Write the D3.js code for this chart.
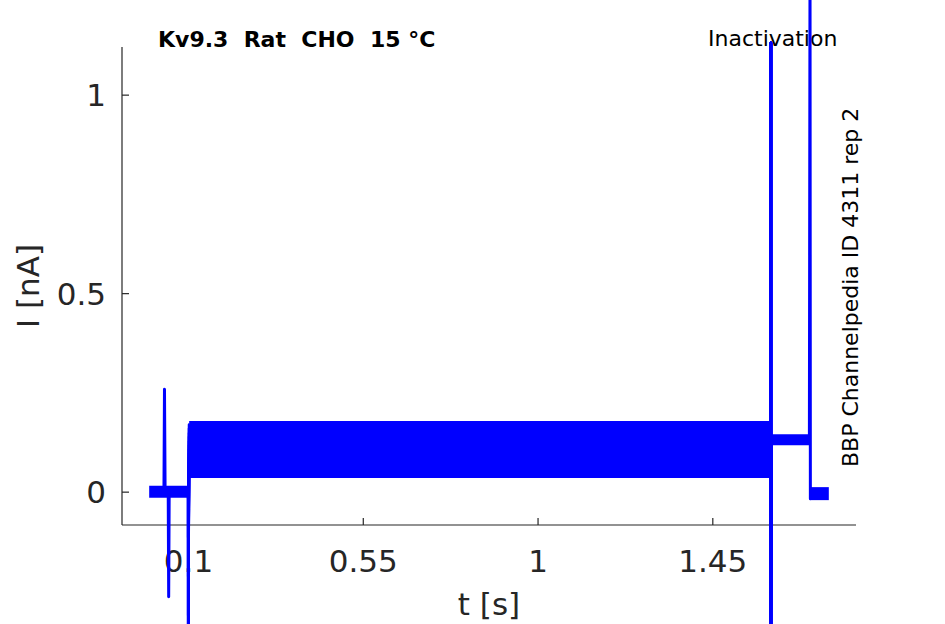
<!DOCTYPE html>
<html>
<head>
<meta charset="utf-8">
<script src="https://cdn.jsdelivr.net/npm/d3@7"></script>
<style>
  body { margin: 0; background: #fff; }
  svg { display: block; font-family: "DejaVu Sans", sans-serif; }
</style>
</head>
<body>
<div id="chart"></div>
<script>
//- Data (time in s, current in nA)
const sweepLevels = [0.043, 0.054, 0.065, 0.075, 0.086, 0.096, 0.107, 0.117, 0.127, 0.138, 0.148, 0.159, 0.169];
const holdLevel = 0.0;
const testLevel = 0.131;
const tailLevel = -0.005;

const holdSpikeUp = [[0.038, 0.0], [0.0394, 0.258], [0.041, 0.0]];
const holdSpikeDown = [[0.049, 0.0], [0.0502, -0.265], [0.0515, 0.0]];
const stepOnset = [[0.1, 0.0], [0.1007, -0.4]];
const testSpike = [[1.601, 1.131], [1.601, -0.4]];
const tailSpike = [[1.7016, 1.35], [1.7025, -0.018]];

const xTicks = [0.1, 0.55, 1, 1.45];
const xTickLabels = ["0.1", "0.55", "1", "1.45"];
const yTicks = [0, 0.5, 1];
const yTickLabels = ["0", "0.5", "1"];

const xDomain = [-0.07, 1.82];
const yDomain = [-0.084, 1.12];


//- Layout
const W = 945, H = 624;
const plot = { left: 122, right: 856, top: 47, bottom: 525 };
const AXISCOLOR = "#262626";
const TRACECOLOR = "#0000ff";

const svg = d3.select("#chart").append("svg")
    .attr("width", W)
    .attr("height", H);

const x = d3.scaleLinear().domain(xDomain).range([plot.left, plot.right]);
const y = d3.scaleLinear().domain(yDomain).range([plot.bottom, plot.top]);


//-- Axes (ticks point inward, MATLAB style)
const xAxis = svg.append("g")
    .attr("transform", `translate(0, ${plot.bottom})`)
    .call(d3.axisTop(x).tickValues(xTicks).tickSize(7).tickFormat((d, i) => xTickLabels[i]));

xAxis.select(".domain")
    .attr("d", `M${plot.left},0H${plot.right}`);

xAxis.selectAll("text")
    .attr("y", 47)
    .attr("dy", null)
    .attr("font-size", 31)
    .attr("font-family", "DejaVu Sans")
    .attr("fill", AXISCOLOR);

const yAxis = svg.append("g")
    .attr("transform", `translate(${plot.left}, 0)`)
    .call(d3.axisRight(y).tickValues(yTicks).tickSize(7).tickFormat((d, i) => yTickLabels[i]));

yAxis.select(".domain")
    .attr("d", `M0,${plot.top}V${plot.bottom}`);

yAxis.selectAll("text")
    .attr("x", -16)
    .attr("dy", "0.36em")
    .attr("text-anchor", "end")
    .attr("font-size", 31)
    .attr("font-family", "DejaVu Sans")
    .attr("fill", AXISCOLOR);

svg.selectAll(".domain, .tick line")
    .attr("stroke", AXISCOLOR)
    .attr("stroke-width", 1.2);


//-- Axis labels and annotations
svg.append("text")
    .attr("x", (plot.left + plot.right) / 2)
    .attr("y", 615)
    .attr("text-anchor", "middle")
    .attr("font-size", 31)
    .attr("fill", AXISCOLOR)
    .text("t [s]");

svg.append("text")
    .attr("transform", `translate(39, ${(plot.top + plot.bottom) / 2}) rotate(-90)`)
    .attr("text-anchor", "middle")
    .attr("font-size", 31)
    .attr("fill", AXISCOLOR)
    .text("I [nA]");

svg.append("text")
    .attr("x", 158)
    .attr("y", 47)
    .attr("font-size", 22)
    .attr("font-weight", "bold")
    .attr("fill", "#000")
    .style("white-space", "pre")
    .text("Kv9.3  Rat  CHO  15 °C");

svg.append("text")
    .attr("x", 708)
    .attr("y", 46)
    .attr("font-size", 22)
    .attr("fill", "#000")
    .text("Inactivation");

svg.append("text")
    .attr("transform", "translate(858, 467) rotate(-90)")
    .attr("font-size", 22)
    .attr("fill", "#000")
    .text("BBP Channelpedia ID 4311 rep 2");


//-- Traces
const line = d3.line().x(d => x(d[0])).y(d => y(d[1]));
const traces = svg.append("g")
    .attr("fill", "none")
    .attr("stroke", TRACECOLOR)
    .attr("stroke-linejoin", "round");

//- Noisy plateaus drawn as thick strokes (stroke width ~ noise band)
traces.append("path")
    .attr("d", line([[0, holdLevel], [0.1, holdLevel]]))
    .attr("stroke-width", 12);

sweepLevels.forEach(level => {
    traces.append("path")
        .attr("d", line([[0.103, level], [1.6, level]]))
        .attr("stroke-width", 7);
});

traces.append("path")
    .attr("d", line([[1.601, testLevel], [1.7016, testLevel]]))
    .attr("stroke-width", 11);

traces.append("path")
    .attr("d", line([[1.703, tailLevel], [1.75, tailLevel]]))
    .attr("stroke-width", 13);

//- Capacitive transients as thin strokes
[holdSpikeUp, holdSpikeDown, stepOnset].forEach(pts => {
    traces.append("path")
        .attr("d", line(pts))
        .attr("stroke-width", 3);
});

sweepLevels.forEach(level => {
    traces.append("path")
        .attr("d", line([stepOnset[1], [0.1025, level], [0.104, level]]))
        .attr("stroke-width", 2.5);
    traces.append("path")
        .attr("d", line([[1.6, level], testSpike[0], testSpike[1], [1.6015, testLevel]]))
        .attr("stroke-width", 2.5);
});

traces.append("path")
    .attr("d", line([[1.7, testLevel], tailSpike[0], tailSpike[1], [1.704, tailLevel]]))
    .attr("stroke-width", 3);
</script>
</body>
</html>
